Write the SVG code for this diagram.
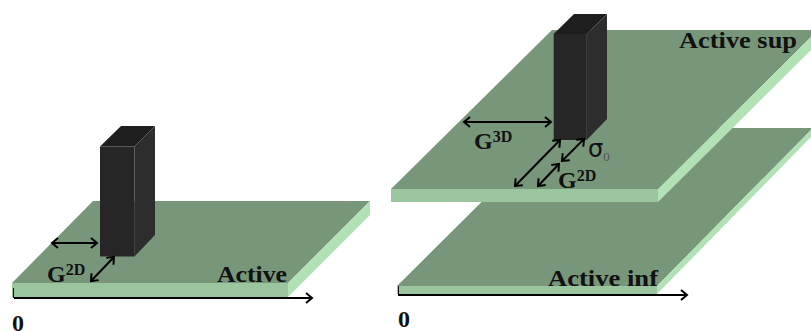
<svg xmlns="http://www.w3.org/2000/svg" width="811" height="331" viewBox="0 0 811 331">
<style>
.top{fill:#78967a}.front{fill:#9bc59e}.side{fill:#b2e1b6}
.pf{fill:#262626}.pt{fill:#1e1e1e}.ps{fill:#2d2d2d}
.a{stroke:#000;stroke-width:2;fill:none}
.d{marker-start:url(#s);marker-end:url(#e)}
.e{marker-end:url(#e)}
text{font-family:"Liberation Serif",serif;font-weight:bold;fill:#111}
.l{font-size:24px}.z{font-size:24px}.sup{font-size:16px}
</style>
<defs>
<marker id="e" markerUnits="userSpaceOnUse" markerWidth="12" markerHeight="12" refX="9" refY="6" orient="auto"><path d="M3 1L9 6L3 11" fill="none" stroke="#000" stroke-width="2"/></marker>
<marker id="s" markerUnits="userSpaceOnUse" markerWidth="12" markerHeight="12" refX="3" refY="6" orient="auto"><path d="M9 1L3 6L9 11" fill="none" stroke="#000" stroke-width="2"/></marker>
</defs>
<g id="plate-active">
<polygon class="top" points="12,283 93,201 370,201 288,283"/>
<polygon class="front" points="12,283 288,283 288,297 12,297"/>
<polygon class="side" points="288,283 370,201 370,215 288,297"/>
</g>
<g id="pillar-left">
<polygon class="pf" points="100,146.5 134.5,146.5 134.5,256.5 100,256.5"/>
<polygon class="pt" points="100,146.5 121,126 155,126 134.5,146.5"/>
<polygon class="ps" points="134.5,146.5 155,126 155,235 134.5,256.5"/>
</g>
<g id="plate-inf">
<polygon class="top" points="397,286 556,128 811,128 811,130 657,286"/>
<polygon class="front" points="397,286 657,286 657,294 397,294"/>
<polygon class="side" points="657,286 811,130 811,137 657,294"/>
</g>
<g id="plate-sup">
<polygon class="top" points="391,189 552,30 811,30 811,37 658,189"/>
<polygon class="front" points="391,189 658,189 658,202 391,202"/>
<polygon class="side" points="658,189 811,37 811,50 658,202"/>
</g>
<g id="pillar-right">
<polygon class="pf" points="553.7,34 586.7,34 586.7,140 553.7,140"/>
<polygon class="pt" points="553.7,34 574,14 607,14 586.7,34"/>
<polygon class="ps" points="586.7,34 607,14 607,119 586.7,140"/>
</g>
<g id="connectors">
<path class="a d" d="M52 243H97"/>
<path class="a d" d="M91 281L114 257"/>
<path class="a e" d="M14 298H312"/>
<path d="M13.500 288V298M398.500 286V295" stroke="#111" stroke-width="1" fill="none"/>
<path class="a d" d="M464 122H551"/>
<path class="a d" d="M515 186L560 140"/>
<path class="a d" d="M538 186L559 164"/>
<path class="a d" d="M562 161L584 139"/>
<path class="a e" d="M398 295H687"/>
</g>
<g id="labels">
<text class="l" x="47" y="282">G<tspan class="sup" dy="-7">2D</tspan></text>
<text class="l" x="217" y="282" textLength="70" lengthAdjust="spacingAndGlyphs">Active</text>
<text class="z" x="12" y="331">0</text>
<text class="l" x="474" y="149">G<tspan class="sup" dy="-7">3D</tspan></text>
<text x="588" y="157" style="font-family:'DejaVu Sans',sans-serif;font-weight:normal;font-size:24px">σ<tspan dy="4" style="font-family:'Liberation Serif',serif;font-size:13px;fill:#555">0</tspan></text>
<text class="l" x="558" y="188">G<tspan class="sup" dy="-7">2D</tspan></text>
<text class="l" x="679" y="48" textLength="118" lengthAdjust="spacingAndGlyphs">Active sup</text>
<text class="l" x="548" y="286" textLength="110" lengthAdjust="spacingAndGlyphs">Active inf</text>
<text class="z" x="398" y="327">0</text>
</g>
</svg>
